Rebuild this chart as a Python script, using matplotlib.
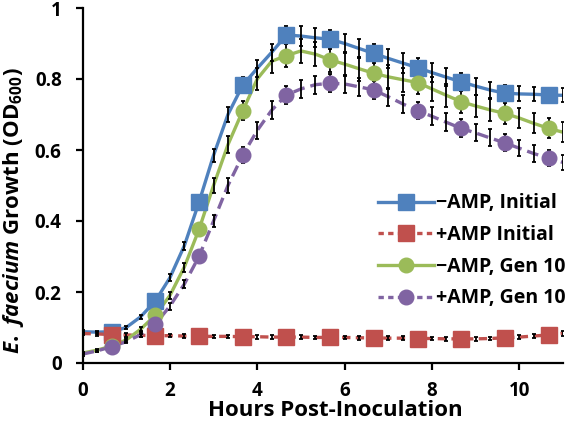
import matplotlib
matplotlib.use("Agg")
import matplotlib.pyplot as plt
from matplotlib.lines import Line2D
import numpy as np

plt.rcParams['font.family'] = ['Open Sans', 'DejaVu Sans']
plt.rcParams['font.weight'] = 'bold'
plt.rcParams['mathtext.fontset'] = 'custom'
plt.rcParams['mathtext.rm'] = 'Open Sans:bold'
plt.rcParams['mathtext.it'] = 'Open Sans:italic:bold'
plt.rcParams['mathtext.bf'] = 'Open Sans:bold'

hours = [0.00, 0.33, 0.67, 1.00, 1.33, 1.67, 2.00, 2.33, 2.67, 3.00, 3.33, 3.67,
         4.00, 4.33, 4.67, 5.00, 5.33, 5.67, 6.00, 6.33, 6.67, 7.00, 7.33, 7.67,
         8.00, 8.33, 8.67, 9.00, 9.33, 9.67, 10.00, 10.33, 10.67, 11.00]

minus_initial = [0.088, 0.087, 0.088, 0.100, 0.130, 0.175, 0.240, 0.330, 0.454, 0.585,
                 0.700, 0.783, 0.830, 0.875, 0.924, 0.921, 0.916, 0.912, 0.900, 0.886,
                 0.872, 0.858, 0.845, 0.832, 0.818, 0.805, 0.792, 0.780, 0.769, 0.760,
                 0.758, 0.757, 0.755, 0.754]
plus_initial = [0.083, 0.082, 0.080, 0.079, 0.078, 0.077, 0.077, 0.076, 0.075, 0.075,
                0.075, 0.074, 0.074, 0.073, 0.073, 0.073, 0.072, 0.072, 0.072, 0.071,
                0.071, 0.070, 0.070, 0.069, 0.069, 0.068, 0.068, 0.068, 0.069, 0.071,
                0.073, 0.076, 0.079, 0.084]
minus_gen10 = [0.028, 0.036, 0.048, 0.065, 0.095, 0.135, 0.190, 0.270, 0.377, 0.500,
               0.615, 0.711, 0.800, 0.850, 0.866, 0.879, 0.870, 0.854, 0.842, 0.829,
               0.816, 0.806, 0.798, 0.790, 0.772, 0.754, 0.736, 0.724, 0.713, 0.703,
               0.690, 0.675, 0.661, 0.650]
plus_gen10 = [0.025, 0.034, 0.046, 0.060, 0.080, 0.110, 0.160, 0.222, 0.301, 0.400,
              0.500, 0.586, 0.655, 0.712, 0.755, 0.772, 0.784, 0.788, 0.786, 0.778,
              0.769, 0.750, 0.730, 0.711, 0.695, 0.678, 0.661, 0.648, 0.634, 0.620,
              0.605, 0.590, 0.577, 0.565]

minus_initial_err = [0.004, 0.004, 0.004, 0.005, 0.006, 0.008, 0.010, 0.012, 0.015, 0.018,
                     0.020, 0.022, 0.024, 0.025, 0.026, 0.027, 0.027, 0.027, 0.027, 0.027,
                     0.027, 0.027, 0.027, 0.026, 0.026, 0.025, 0.025, 0.024, 0.023, 0.022,
                     0.021, 0.020, 0.020, 0.020]
plus_initial_err = [0.005, 0.005, 0.005, 0.005, 0.005, 0.005, 0.005, 0.005, 0.005, 0.005,
                    0.005, 0.005, 0.005, 0.005, 0.005, 0.005, 0.005, 0.005, 0.005, 0.005,
                    0.005, 0.005, 0.005, 0.005, 0.005, 0.005, 0.005, 0.005, 0.005, 0.006,
                    0.006, 0.006, 0.007, 0.007]
minus_gen10_err = [0.004, 0.004, 0.004, 0.005, 0.006, 0.008, 0.010, 0.013, 0.016, 0.020,
                   0.024, 0.027, 0.030, 0.032, 0.033, 0.034, 0.034, 0.034, 0.034, 0.034,
                   0.034, 0.034, 0.034, 0.033, 0.033, 0.032, 0.032, 0.031, 0.030, 0.030,
                   0.029, 0.028, 0.028, 0.028]
plus_gen10_err = [0.004, 0.004, 0.004, 0.005, 0.006, 0.008, 0.010, 0.012, 0.015, 0.018,
                  0.020, 0.022, 0.024, 0.025, 0.025, 0.025, 0.025, 0.025, 0.025, 0.025,
                  0.025, 0.025, 0.025, 0.025, 0.025, 0.025, 0.025, 0.024, 0.024, 0.024,
                  0.023, 0.023, 0.022, 0.022]

labels = ["\u2212AMP, Initial", "+AMP Initial", "\u2212AMP, Gen 10", "+AMP, Gen 10"]
colors = ["#4F81BD", "#C0504D", "#9BBB59", "#8064A2"]
markers = ["s", "s", "o", "o"]
msizes = [11, 11, 10.5, 10.5]
dashes = [None, (2.5, 1.6), None, (3.5, 1.8)]

series = [minus_initial, plus_initial, minus_gen10, plus_gen10]
errs = [minus_initial_err, plus_initial_err, minus_gen10_err, plus_gen10_err]

fig = plt.figure(figsize=(5.66, 4.22), dpi=100)
ax = fig.add_axes([82.5 / 566, 59 / 422, (563 - 82.5) / 566, (363 - 8) / 422])

handles = []
for y, e, c, m, ms, d, lab in zip(series, errs, colors, markers, msizes, dashes, labels):
    line_kw = dict(color=c, lw=2.4, solid_capstyle='butt', dash_capstyle='butt')
    if d is not None:
        ln, = ax.plot(hours, y, linestyle='--', dashes=d, zorder=2, **line_kw)
    else:
        ln, = ax.plot(hours, y, linestyle='-', zorder=2, **line_kw)
    ax.errorbar(hours, y, yerr=e, fmt='none', ecolor='black', elinewidth=1.3,
                capsize=1.7, capthick=1.3, zorder=3)
    ax.plot(hours[2::3], y[2::3], linestyle='none', marker=m, markersize=ms,
            markerfacecolor=c, markeredgecolor=c, zorder=4)
    h = Line2D([], [], color=c, lw=2.4, marker=m, markersize=ms,
               markerfacecolor=c, markeredgecolor=c,
               linestyle='--' if d is not None else '-')
    if d is not None:
        h.set_dashes((1.6, 1.3))
    handles.append(h)

ax.set_xlim(0, 11.0)
ax.set_ylim(0, 1.0)
ax.set_xticks([0, 2, 4, 6, 8, 10])
ax.set_xticklabels(["0", "2", "4", "6", "8", "10"])
ax.set_yticks([0, 0.2, 0.4, 0.6, 0.8, 1.0])
ax.set_yticklabels(["0", "0.2", "0.4", "0.6", "0.8", "1"])

for s in ['top', 'right']:
    ax.spines[s].set_visible(False)
for s in ['left', 'bottom']:
    ax.spines[s].set_linewidth(1.6)
    ax.spines[s].set_color('black')

ax.tick_params(axis='both', direction='out', length=5, width=1.6, labelsize=13.5, colors='black')
ax.tick_params(axis='y', pad=10)
ax.tick_params(axis='x', pad=8)
for lbl in ax.get_xticklabels() + ax.get_yticklabels():
    lbl.set_fontweight('bold')

ax.set_xlabel("Hours Post-Inoculation", fontsize=16, fontweight='bold')
ax.xaxis.set_label_coords(0.527, -0.104)
ax.set_ylabel(r"$\mathit{E.\ faecium}$ Growth (OD$_{600}$)", fontsize=16, fontweight='bold')
ax.yaxis.set_label_coords(-0.118, 0.43)

leg = ax.legend(handles, labels, loc='upper left', bbox_to_anchor=(0.615, 0.478),
                frameon=False, handlelength=2.9, handletextpad=0.1,
                labelspacing=0.6, borderaxespad=0, borderpad=0,
                prop={'weight': 'bold', 'size': 14})

fig.savefig("out.png", dpi=100)
